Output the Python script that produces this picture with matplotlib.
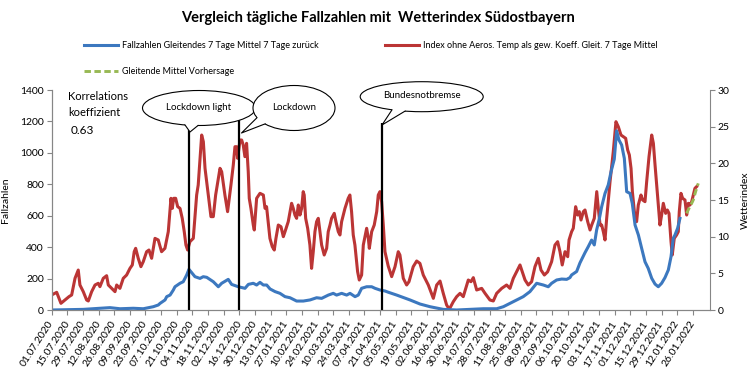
import datetime as dt
import numpy as np
import matplotlib
matplotlib.use("Agg")
import matplotlib.pyplot as plt
import matplotlib.dates as mdates
from matplotlib.patches import Ellipse, Polygon

plt.rcParams['font.family'] = ['Lato', 'DejaVu Sans']

# Tage seit dem 01.07.2020
start = dt.date(2020, 7, 1)
ende_tage = 589.4

# Wetterindex (rechte Achse), gleitendes 7-Tage-Mittel
red_tage = [0, 4.5, 8.3, 11.9, 15.5, 17.9, 20.9, 23.8, 25.3, 28.3, 31.3, 32.8, 35.8, 38.8, 41.7, 43.2,
            46.2, 49.2, 50.7, 53.7, 56.7, 58.2, 61.1, 64.1, 67.1, 70.1, 72.2, 73.9, 75.2, 77.5, 79.9, 82,
            85, 87.1, 89.5, 92.5, 95.4, 98.4, 101.4, 104.4, 106.8, 108, 109.2, 111, 112.8, 114.9, 116.9,
            118.7, 120.2, 121.7, 123.8, 126.8, 129.8, 131.2, 132.8, 134.3, 135.8, 137.3, 140.2, 142.6,
            144.7, 146.8, 150.7, 152.2, 155.1, 157.5, 160.5, 162.6, 164.1, 165.6, 166.5, 167.7, 168.6,
            170.1, 171.5, 173, 174.5, 176, 176.9, 178.4, 180.5, 181.4, 183.5, 186.5, 189.5, 191, 192.4,
            195.4, 197.5, 199.3, 200.8, 202.9, 205.3, 207.4, 208.9, 211.8, 214.8, 216.3, 217.8, 219.3,
            220.8, 222.3, 223.8, 225.2, 226.1, 227.4, 229.2, 231.2, 232.7, 234.2, 235.7, 237.2, 238.7,
            240.2, 241.7, 244, 246.2, 247.6, 249.2, 250.6, 253, 254.5, 256.6, 258.1, 259.6, 262.6, 265.5,
            267, 268.5, 270, 271.5, 273.9, 275.4, 277.5, 279, 282, 283.5, 284.4, 286.5, 288.8, 291, 292.4,
            293.9, 295.4, 296.9, 298.4, 301.3, 304.4, 307.4, 310.3, 311.8, 314.8, 317.8, 319.9, 323.7,
            326.8, 329.7, 332.7, 337.2, 341.7, 344.7, 347.7, 350.6, 353.6, 356, 359.6, 362.6, 365.6,
            368.5, 373, 375.4, 377.5, 380.5, 385, 388, 392.4, 395.4, 398.4, 402.9, 407.3, 410.3, 413.3,
            416.3, 419.3, 421.3, 423.8, 426.7, 429.7, 432.7, 435.7, 438.1, 441.1, 444, 447.6, 450.6, 453,
            455.1, 457.1, 459.6, 462, 463.2, 465.5, 467, 469.1, 470.9, 472.4, 473.9, 476, 477.5, 479.9,
            482, 483.5, 485.8, 488, 489.4, 491, 492.4, 493.9, 495.4, 496.9, 499.9, 502.8, 505.2, 507.3,
            509.7, 511.7, 513.9, 515.7, 517.2, 518.7, 519.9, 521.7, 523.7, 525.2, 527.6, 529.1, 531.2,
            532.7, 534.8, 537.2, 538.7, 540.2, 542.6, 544.6, 546.1, 547.6, 549.7, 551.2, 552.7, 554.5,
            555.6, 557.4, 559.5, 561, 561.9, 563.4, 564.9, 567, 568.5, 570, 571.5, 573, 574.4, 575.9, 577.4]
red_wert = [2.05, 2.41, 0.91, 1.36, 1.82, 2.05, 4.32, 5.45, 3.41, 2.5, 1.36, 1.23, 2.5, 3.41, 3.64, 3.18,
            4.32, 4.68, 3.41, 2.95, 2.5, 3.41, 2.95, 4.32, 4.77, 5.68, 6.14, 7.95, 8.41, 7.05, 5.91, 6.59,
            7.95, 8.18, 7.05, 9.77, 9.55, 7.95, 8.41, 10.68, 15.23, 13.86, 15.23, 15.23, 14.09, 13.86, 12.5,
            10.68, 8.86, 8.18, 9.32, 9.77, 15.68, 17.05, 20.68, 23.86, 22.95, 19.32, 15.68, 12.73,
            12.73, 15.68, 19.32, 18.86, 15.68, 13.41, 17.05, 19.77, 22.27, 22.27, 20.68, 22.05, 23.18,
            23.18, 22.5, 20.91, 22.73, 18.86, 15.23, 13.86, 11.59, 10.91, 15.23, 15.91, 15.68, 13.86, 14.09,
            9.77, 8.64, 8.18, 9.77, 11.59, 11.36, 10, 10.68, 12.05, 14.55, 13.86, 12.95, 12.5,
            14.32, 12.95, 13.86, 16.14, 15.68, 12.5, 11.14, 8.86, 5.68, 7.95, 10.68, 12.05, 12.5,
            10.68, 8.86, 7.5, 8.41, 10.68, 11.59, 12.5, 13.18, 12.05, 10.68, 10.23, 12.05, 13.86, 15.23,
            15.68, 13.41, 10.23, 8.86, 5.23, 4.09, 4.77, 8.86, 11.14, 9.77, 8.41, 10.68, 11.59, 13.41, 15.68,
            16.14, 14.77, 11.59, 7.95, 6.0, 4.55, 5.91, 7.95, 7.5, 4.32, 3.41, 3.86, 5.91,
            6.68, 6.36, 4.77, 3.41, 1.59, 3.41, 3.95, 2.27, 0.68, 0.1, 1.14, 1.82, 2.27,
            1.82, 4.09, 3.86, 4.41, 2.73, 2.95, 2.27, 1.36, 1.23, 2.27, 2.95, 3.41, 2.95, 4.32,
            5.23, 6.14, 5.23, 4.09, 3.41, 3.86, 5.91, 7.05, 5.45, 4.77, 5.2, 6.59, 8.86, 9.32,
            7.95, 6.14, 7.95, 7.27, 9.55, 10.68, 11.14, 14.09, 12.95, 13.41, 12.27, 13.41, 13.64, 12.05,
            10.91, 11.59, 12.5, 16.14, 13.86, 11.59, 11.59, 10.68, 9.55, 12.5, 17.5, 21.59, 25.68, 25.0,
            23.86, 23.64, 23.41, 21.82, 21.14, 19.32, 16.14, 13.41, 12.05, 14.32, 15.68, 15.0, 14.77,
            17.5, 20.91, 23.86, 22.73, 19.77, 15.32, 11.59, 12.95, 14.55, 13.18, 13.64, 13.18, 9.32,
            7.5, 9.77, 10.23, 10.68, 13.41, 15.91, 15.23, 15.0, 12.95, 14.55, 14.32, 14.77, 15.68, 16.59, 16.82]

# Fallzahlen (linke Achse), gleitendes 7-Tage-Mittel
blue_tage = [0, 28.3, 43.3, 52.2, 61.2, 73.1, 82, 91, 95.5, 97, 101.5, 103, 106, 108.9, 110.4, 114.9,
             117.8, 120.9, 122.9, 128.3, 132.8, 135.7, 138.8, 144.7, 149.2, 152.2, 158.1, 161.1, 167.1,
             173.1, 176.1, 180.5, 183.5, 186.5, 189.5, 192.5, 195.5, 200, 204.4, 208.9, 213.4, 219.3,
             225.3, 231.3, 237.2, 241.7, 247.7, 252.1, 255.1, 259.6, 264.1, 267.1, 271.6, 274.5, 277.5,
             282, 286.5, 289.5, 294, 298.4, 301.4, 308.9, 320.8, 329.8, 338.7, 350.6, 362.6, 374.4,
             386.4, 398.4, 404.4, 413.3, 422.2, 428.2, 434.2, 440.2, 444.6, 447.6, 452.1, 456.6, 461.1,
             464, 465.5, 470, 473, 477.5, 480.4, 483.4, 485.8, 487.9, 490.4, 492.4, 495.4, 498.3, 500.8,
             503.7, 505.8, 507.9, 510.3, 512.7, 514.8, 517.8, 519.8, 522.3, 525.3, 528.2, 531.2, 534.1,
             537.2, 540.2, 543.1, 546.1, 549.1, 552.1, 554.5, 556.5, 558, 560.4, 562.5]
blue_wert = [0, 4, 11, 15, 8, 11, 8, 21, 32, 42, 64, 85, 95, 127, 148, 170,
             180, 223, 259, 212, 201, 212, 208, 180, 148, 170, 195, 163, 148,
             138, 163, 170, 159, 176, 159, 159, 134, 117, 106, 85, 78, 57,
             57, 64, 78, 74, 95, 106, 95, 106, 95, 106, 85, 95, 138,
             148, 148, 138, 127, 121, 113, 95, 64, 38, 21, 4, 0, 4,
             8, 8, 21, 53, 85, 117, 170, 159, 148, 170, 191, 197, 195,
             206, 223, 245, 300, 365, 403, 445, 414, 509, 583, 657, 742, 796, 880,
             960, 1140, 1082, 1050, 965, 753, 742, 679, 541, 477, 393, 307, 265,
             202, 165, 148, 170, 206, 255, 339, 456, 477, 520, 583]

# Vorhersage (rechte Achse)
green_tage = [568.5, 570.6, 573, 574.4, 576.5, 578.9]
green_wert = [13.18, 13.86, 14.55, 15.0, 16.14, 17.27]

# Massnahmen
events = ['Lockdown light', 'Lockdown', 'Bundesnotbremse']
event_tage = [123, 168, 296]

BLUE = '#3C78BF'
RED = '#BB3535'
GREEN = '#98B954'
GREY = '#868686'

t0 = mdates.date2num(start)
def to_x(tage):
    return [t0 + t for t in tage]

W, H = 756, 379
fig = plt.figure(figsize=(W / 100, H / 100), dpi=100)
ax = fig.add_axes([51.67 / W, 1 - 310 / H, (710 - 51.67) / W, 220 / H])
ax2 = ax.twinx()

red_line, = ax2.plot(to_x(red_tage), red_wert, color=RED, lw=2.2, solid_joinstyle='round')
green_line, = ax2.plot(to_x(green_tage), green_wert, color=GREEN, lw=2.1, dashes=(2.2, 1.2), zorder=3)
blue_line, = ax.plot(to_x(blue_tage), blue_wert, color=BLUE, lw=2.2, solid_joinstyle='round')
ax.set_zorder(ax2.get_zorder() + 1)
ax.patch.set_visible(False)

# vertikale Linien fuer die Massnahmen
tops = [1145, 1209, 1188]
ax.vlines(to_x(event_tage), 0, tops, color='black', lw=1.6)

# Achsen
ax.set_xlim(t0, t0 + ende_tage)
ax.set_ylim(0, 1400)
ax.set_yticks(range(0, 1401, 200))
ax2.set_ylim(0, 30)
ax2.set_yticks(range(0, 31, 5))

tick_tage = list(range(0, 575, 14))
ax.set_xticks(to_x(tick_tage))
ax.set_xticklabels([(start + dt.timedelta(days=t)).strftime('%d.%m.%Y') for t in tick_tage],
                   rotation=57, ha='right', va='center', rotation_mode='anchor', fontsize=7.3)

for a in (ax, ax2):
    a.spines['top'].set_visible(False)
    for s in ('left', 'right', 'bottom'):
        a.spines[s].set_color(GREY)
    a.tick_params(direction='out', length=3.5, color=GREY, labelsize=7.5, pad=2)
ax.spines['right'].set_visible(False)
ax.tick_params(axis='x', pad=5)

ax.set_ylabel('Fallzahlen', fontsize=7.5)
ax.yaxis.set_label_coords(-0.063, 0.5)
ax2.set_ylabel('Wetterindex', fontsize=7.5, rotation=90)
ax2.yaxis.set_label_coords(1.047, 0.5)

# Titel und Texte
fig.text(0.5, 1 - 18 / H, 'Vergleich tägliche Fallzahlen mit  Wetterindex Südostbayern',
         ha='center', va='center', fontsize=10.5, fontweight='bold')
fig.text(68 / W, 1 - 97 / H, 'Korrelations', fontsize=8, va='center')
fig.text(68 / W, 1 - 112 / H, 'koeffizient', fontsize=8, va='center')
fig.text(71 / W, 1 - 131 / H, '0.63', fontsize=8.5, va='center')

# Legende
fig.legend([blue_line, green_line],
           ['Fallzahlen Gleitendes 7 Tage Mittel 7 Tage zurück', 'Gleitende Mittel Vorhersage'],
           loc='upper left', bbox_to_anchor=(84 / W, 1 - 41.5 / H), frameon=False, fontsize=6.5,
           handlelength=3.8, handletextpad=0.4, labelspacing=1.85, borderpad=0, borderaxespad=0)
fig.legend([red_line], ['Index ohne Aeros. Temp als gew. Koeff. Gleit. 7 Tage Mittel'],
           loc='upper left', bbox_to_anchor=(385 / W, 1 - 41.5 / H), frameon=False, fontsize=6.5,
           handlelength=3.8, handletextpad=0.4, borderpad=0, borderaxespad=0)

# Sprechblasen (Pixelkoordinaten)
ov = fig.add_axes([0, 0, 1, 1])
ov.set_xlim(0, W)
ov.set_ylim(H, 0)
ov.axis('off')
ov.set_zorder(ax.get_zorder() + 1)

def bubble(text, cx, cy, w, h, x1, x2, tip):
    a, b = w / 2, h / 2
    ov.add_patch(Ellipse((cx, cy), w, h, fc='white', ec='black', lw=0.8))
    p1 = (x1, cy + b * np.sqrt(1 - ((x1 - cx) / a) ** 2))
    p2 = (x2, cy + b * np.sqrt(1 - ((x2 - cx) / a) ** 2))
    ov.add_patch(Polygon([(p1[0], p1[1] - 2), p1, tip, p2, (p2[0], p2[1] - 2)],
                         closed=True, fc='white', ec='none'))
    ov.plot([p1[0], tip[0], p2[0]], [p1[1], tip[1], p2[1]], color='black', lw=0.8)
    ov.text(cx, cy - 1, text, ha='center', va='center', fontsize=7)

bubble(events[0], 199, 108, 113, 35, 185, 198, (190, 132))
bubble(events[1], 294, 108, 82, 45, 257, 265, (241.5, 133))
bubble(events[2], 421.7, 96.7, 123, 30, 392, 405, (382, 125))

fig.savefig('out.png', dpi=100)
